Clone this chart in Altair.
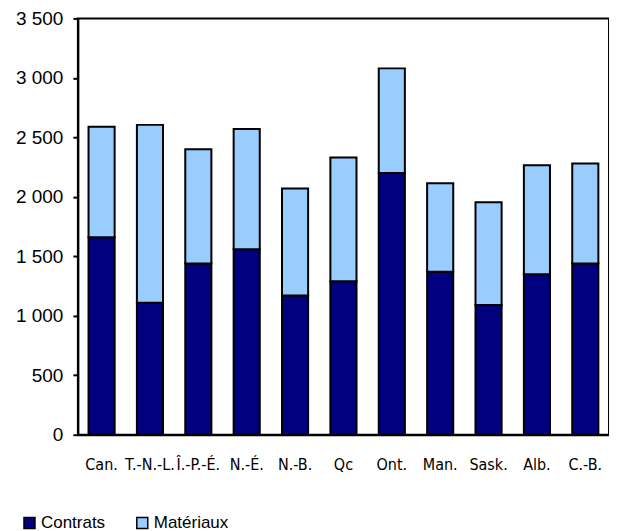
import altair as alt
import pandas as pd

regions = ["Can.", "T.-N.-L.", "Î.-P.-É.", "N.-É.", "N.-B.", "Qc", "Ont.", "Man.", "Sask.", "Alb.", "C.-B."]
contrats = [1660, 1110, 1440, 1560, 1170, 1290, 2200, 1370, 1090, 1350, 1440]
totals = [2590, 2605, 2400, 2570, 2070, 2330, 3080, 2115, 1955, 2265, 2280]
materiaux = [t - c for t, c in zip(totals, contrats)]
series = ["Contrats", "Matériaux"]
colors = ["#000080", "#99CCFF"]
y_ticks = [0, 500, 1000, 1500, 2000, 2500, 3000, 3500]

rows = []
for r, c, m in zip(regions, contrats, materiaux):
    rows.append({"region": r, "serie": series[0], "valeur": c, "ordre": 0})
    rows.append({"region": r, "serie": series[1], "valeur": m, "ordre": 1})
df = pd.DataFrame(rows)

chart = alt.Chart(df).mark_bar(stroke="black", strokeWidth=2).encode(
    x=alt.X("region:N", sort=regions, title=None,
            scale=alt.Scale(paddingInner=0.46, paddingOuter=0.22),
            axis=alt.Axis(labelAngle=0, ticks=False, labelPadding=22,
                          labelFont="DejaVu Sans Condensed, Liberation Sans", labelFontSize=16,
                          labelColor="black", domainColor="black", domainWidth=2)),
    y=alt.Y("valeur:Q", stack="zero", title=None,
            scale=alt.Scale(domain=[0, 3500], nice=False),
            axis=alt.Axis(values=y_ticks, grid=False, tickSize=5, tickColor="black",
                          tickWidth=2, labelPadding=10,
                          labelExpr="replace(format(datum.value, ','), ',', ' ')",
                          labelFont="Liberation Sans", labelFontSize=19,
                          labelColor="black", domainColor="black", domainWidth=2)),
    color=alt.Color("serie:N", sort=series,
                    scale=alt.Scale(domain=series, range=colors),
                    legend=alt.Legend(title=None, orient="none", legendX=-57, legendY=497,
                                      direction="horizontal", symbolType="square",
                                      symbolSize=121, symbolStrokeColor="black",
                                      symbolStrokeWidth=1.5, symbolOpacity=1,
                                      labelFont="Liberation Sans", labelFontSize=17,
                                      labelColor="black", labelOffset=3,
                                      columnPadding=28)),
    order=alt.Order("ordre:Q", sort="ascending"),
).properties(
    width=532, height=417,
    autosize=alt.AutoSizeParams(type="none"),
    padding={"left": 70, "top": 10, "right": 0, "bottom": 96},
    view=alt.ViewBackground(stroke="black", strokeWidth=2, fill="white"),
).configure(background="white")

chart.save("out.html", embed_options={"renderer": "svg", "actions": False})
